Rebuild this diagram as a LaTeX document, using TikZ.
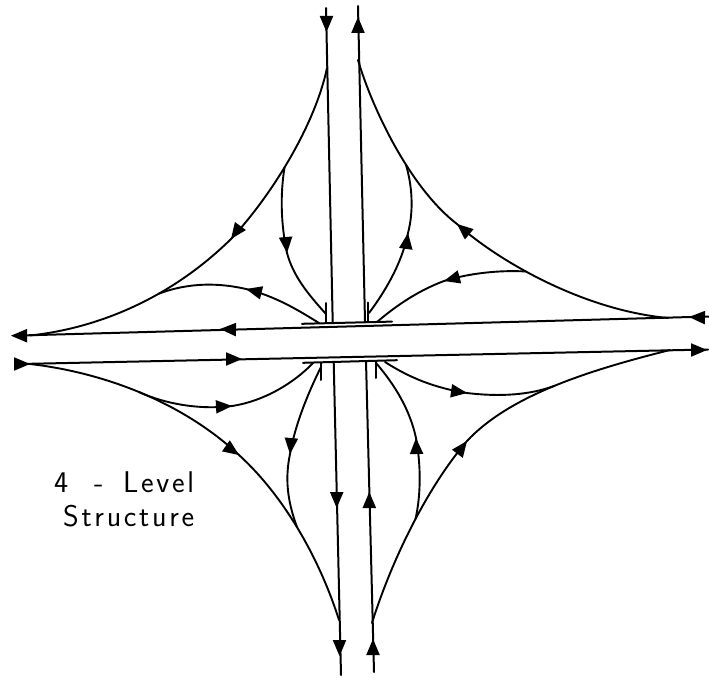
\documentclass[tikz,border=0pt]{standalone}
\usepackage{fontspec}
\setsansfont[LetterSpace=9]{Latin Modern Sans}
\newcommand{\ahead}[3]{\fill[shift={(#1,#2)},rotate=#3] (0,0) -- (-16,-6.8) -- (-16,6.8) -- cycle;}
\tikzset{road/.style={line width=2pt,line cap=round,line join=round},
 ramp/.style={line width=1.9pt,line cap=round,line join=round},
 caption/.style={anchor=base west,inner sep=0pt,font=\sffamily\fontsize{30}{30}\selectfont}}
\begin{document}
\begin{tikzpicture}[x=1pt,y=-1pt]
\useasboundingbox (0,0) rectangle (709,677);
% through roads
\draw[road] (326,8) -- (332.7,322);
\draw[road] (358,6) -- (365,322);
\draw[road] (333.7,362) -- (341,675);
\draw[road] (366,361) -- (374,672);
\draw[road] (20,335.5) -- (709,316.5);
\draw[road] (20,364) -- (708,349.5);
% bridge bars and ticks
\draw[road] (302,323.8) -- (392,321.6);
\draw[road] (303,362.8) -- (397,360.2);
\draw[road] (326.3,303) -- (326.3,322.5);
\draw[road] (368.3,302.5) -- (368.3,322);
\draw[road] (321.3,363) -- (321.3,380);
\draw[road] (375.7,362) -- (375.7,378);
% NW
\draw[ramp] (327,68) .. controls (315,125) and (272,195) .. coordinate[pos=.55] (nwa) (231,239) .. controls (172,297) and (100,328) .. coordinate[pos=.38] (nwb) (30,335.5);
\draw[ramp] (nwa) .. controls (280,195) and (281,225) .. (287,253) .. controls (293,275) and (306,292) .. (326,314);
\draw[ramp] (nwb) .. controls (190,282) and (220,283) .. (246,289) .. controls (275,296) and (298,310) .. (319,323);
% NE
\draw[ramp] (358,60) .. controls (372,108) and (410,188) .. coordinate[pos=.6] (nea) (457,224) .. controls (497,260) and (582,310) .. coordinate[pos=.41] (neb) (668,318);
\draw[ramp] (nea) .. controls (412,185) and (414,210) .. (408,233) .. controls (403,258) and (390,285) .. (369,313);
\draw[ramp] (neb) .. controls (500,270) and (470,273) .. (444,281) .. controls (420,290) and (398,304) .. (377,322);
% SW
\draw[ramp] (30,364) .. controls (100,372) and (180,400) .. coordinate[pos=.5] (swb) (239,455) .. controls (285,497) and (320,560) .. coordinate[pos=.48] (swa) (339,620);
\draw[ramp] (swb) .. controls (165,404) and (200,410) .. (232,406) .. controls (265,401) and (295,382) .. (313,363);
\draw[ramp] (swa) .. controls (287,500) and (285,478) .. (290,454) .. controls (295,425) and (308,393) .. (321,367);
% SE
\draw[ramp] (372,623) .. controls (390,565) and (425,490) .. coordinate[pos=.55] (sea) (467,441) .. controls (510,395) and (590,370) .. coordinate[pos=.5] (seb) (670,350);
\draw[ramp] (sea) .. controls (421,495) and (421,465) .. (416,438) .. controls (410,410) and (395,385) .. (376,363);
\draw[ramp] (385,362) .. controls (410,378) and (435,388) .. (467,393) .. controls (500,397) and (530,395) .. (seb);
% arrowheads on through roads
\ahead{326.5}{32}{-90}
\ahead{358}{17}{90}
\ahead{11}{335.7}{180}
\ahead{30}{364}{0}
\ahead{689}{317}{178}
\ahead{707}{350}{0}
\ahead{220}{329}{178}
\ahead{242}{359}{0}
\ahead{336.7}{508}{-90}
\ahead{339.5}{656}{-90}
\ahead{369.3}{492}{90}
\ahead{373}{639}{90}
% arrowheads on ramps
\ahead{231}{239}{234}
\ahead{287}{253}{-85}
\ahead{246}{289}{166}
\ahead{457}{224}{140}
\ahead{408}{233}{82}
\ahead{444}{281}{195}
\ahead{232}{406}{3}
\ahead{239}{455}{-35}
\ahead{290}{454}{-95}
\ahead{467}{393}{-8}
\ahead{467}{441}{53}
\ahead{416}{438}{92}
% caption
\node[caption] (l1) at (54,492) {4};
\node[caption] (l1b) at (94,492) {-};
\node[caption] (l1c) at (123,492) {Level};
\node[caption] (l2) at (63,526) {Structure};
\end{tikzpicture}
\end{document}
